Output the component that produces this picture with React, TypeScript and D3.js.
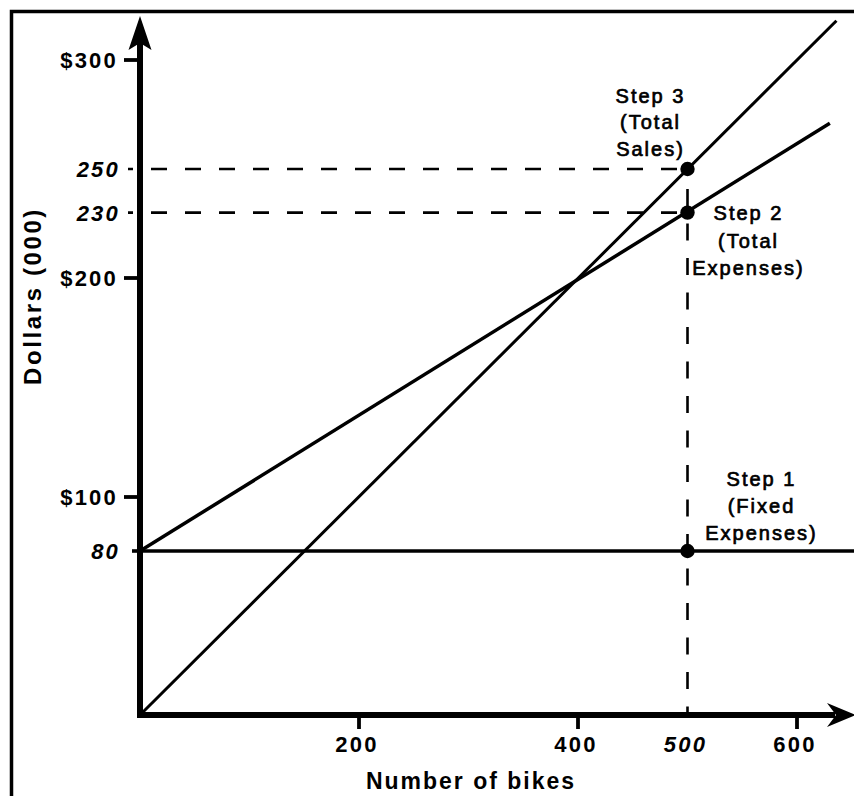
import React from "react";
import * as d3 from "d3";

// ---- data ----
const salesBikes = [0, 636];
const salesDollars = [0, 318];
const expenseBikes = [0, 630];
const expenseDollars = [80, 271];
const fixedBikes = [0, 660];
const fixedDollars = [80, 80];
const markerBikes = [500, 500, 500];
const markerDollars = [80, 230, 250];
const yTickValues = [300, 250, 230, 200, 100, 80];
const yTickLabels = ["$300", "250", "230", "$200", "$100", "80"];
const yTickItalic = [false, true, true, false, false, true];
const xTickValues = [200, 400, 500, 600];
const xTickLabels = ["200", "400", "500", "600"];
const xTickItalic = [false, false, true, false];
const guideDollars = [250, 230];
const guideBike = 500;
const stepLabels = [
  ["Step 3", "(Total", "Sales)"],
  ["Step 2", "(Total", "Expenses)"],
  ["Step 1", "(Fixed", "Expenses)"],
];
const stepAnchorDollars = [250, 230, 80];

const W = 854;
const H = 796;
const FONT = "'Liberation Sans', Arial, Helvetica, sans-serif";

export default function App() {
  const x = d3.scaleLinear().domain([0, 600]).range([140, 797]);
  // axis as drawn in the picture (not strictly uniform)
  const y = d3.scaleLinear().domain([0, 80, 100, 200, 300]).range([715, 551, 497, 278, 60]);

  const line = d3
    .line<[number, number]>()
    .x((d) => x(d[0]))
    .y((d) => y(d[1]));

  const pts = (bs: number[], vs: number[]) => bs.map((b, i) => [b, vs[i]] as [number, number]);

  const x0 = x(0);
  const y0 = y(0);

  const stepOffsets = [
    { dx: -37, dys: [-66, -40, -13] },
    { dx: 61, dys: [7.5, 35, 62] },
    { dx: 74, dys: [-65, -38, -11] },
  ];

  return (
    <svg
      width={W}
      height={H}
      style={{ position: "absolute", left: 0, top: 0, background: "#fff" }}
      fontFamily={FONT}
    >
      <rect x={0} y={0} width={W} height={H} fill="#fff" />
      {/* frame */}
      <rect x={11.5} y={11.5} width={W + 50} height={H + 50} fill="none" stroke="#000" strokeWidth={3.5} />

      {/* dashed guides */}
      {guideDollars.map((v, i) => (
        <line
          key={"hg" + i}
          x1={128}
          x2={x(guideBike)}
          y1={y(v)}
          y2={y(v)}
          stroke="#000"
          strokeWidth={2.6}
          strokeDasharray="16 18"
          strokeDashoffset={11}
        />
      ))}
      <line
        x1={x(guideBike)}
        x2={x(guideBike)}
        y1={y(250)}
        y2={y0}
        stroke="#000"
        strokeWidth={2.6}
        strokeDasharray="17 17.5"
        strokeDashoffset={14.5}
      />

      {/* lines */}
      <path d={line(pts(fixedBikes, fixedDollars)) || ""} fill="none" stroke="#000" strokeWidth={3.6} />
      <line x1={x0 - 8} x2={x0} y1={y(80)} y2={y(80)} stroke="#000" strokeWidth={3.6} />
      <path d={line(pts(expenseBikes, expenseDollars)) || ""} fill="none" stroke="#000" strokeWidth={3.5} />
      <path d={line(pts(salesBikes, salesDollars)) || ""} fill="none" stroke="#000" strokeWidth={3} />

      {/* axes */}
      <line x1={x0} x2={x0} y1={y0 + 3} y2={40} stroke="#000" strokeWidth={6} />
      <path d={`M${x0},16 L${x0 + 11.5},50 L${x0},43 L${x0 - 11.5},50 Z`} fill="#000" />
      <line x1={x0 - 3} x2={835} y1={y0} y2={y0} stroke="#000" strokeWidth={6} />
      <path d={`M856,${y0} L827,${y0 - 12} L836,${y0} L827,${y0 + 12} Z`} fill="#000" />

      {/* y ticks */}
      {yTickValues.map((v, i) => (
        <g key={"yt" + i}>
          {!yTickItalic[i] && (
            <line x1={124} x2={x0} y1={y(v)} y2={y(v)} stroke="#000" strokeWidth={3.8} />
          )}
          <text
            x={yTickItalic[i] ? 120 : 118}
            y={y(v) + 8}
            textAnchor="end"
            fontSize={22}
            fontWeight="bold"
            fontStyle={yTickItalic[i] ? "italic" : "normal"}
            letterSpacing={2.2}
          >
            {yTickLabels[i]}
          </text>
        </g>
      ))}

      {/* x ticks */}
      {xTickValues.map((v, i) => (
        <g key={"xt" + i}>
          {!xTickItalic[i] && (
            <line x1={x(v)} x2={x(v)} y1={y0} y2={y0 + 14} stroke="#000" strokeWidth={3.8} />
          )}
          <text
            x={x(v) - 2}
            y={752}
            textAnchor="middle"
            fontSize={22}
            fontWeight="bold"
            fontStyle={xTickItalic[i] ? "italic" : "normal"}
            letterSpacing={2.2}
          >
            {xTickLabels[i]}
          </text>
        </g>
      ))}

      {/* markers */}
      {markerBikes.map((b, i) => (
        <circle key={"m" + i} cx={x(b)} cy={y(markerDollars[i])} r={7.2} fill="#000" />
      ))}

      {/* step annotations */}
      {stepLabels.map((lines, i) => (
        <g key={"s" + i}>
          {lines.map((t, j) => (
            <text
              key={j}
              x={x(guideBike) + stepOffsets[i].dx}
              y={y(stepAnchorDollars[i]) + stepOffsets[i].dys[j]}
              textAnchor="middle"
              fontSize={20}
              letterSpacing={2}
              stroke="#000"
              strokeWidth={0.7}
            >
              {t}
            </text>
          ))}
        </g>
      ))}

      {/* axis titles */}
      <text x={471} y={789} textAnchor="middle" fontSize={23} fontWeight="bold" letterSpacing={2}>
        Number of bikes
      </text>
      <text
        transform={`translate(41,296) rotate(-90)`}
        textAnchor="middle"
        fontSize={24}
        fontWeight="bold"
        letterSpacing={2.6}
      >
        Dollars (000)
      </text>
    </svg>
  );
}
